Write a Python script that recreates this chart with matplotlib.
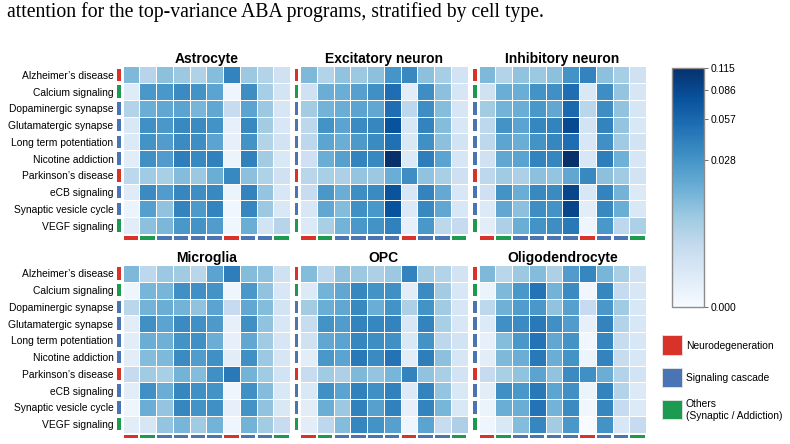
import numpy as np
import matplotlib
matplotlib.use('Agg')
import matplotlib.pyplot as plt
from matplotlib.colors import PowerNorm
from matplotlib.cm import ScalarMappable
from matplotlib.patches import Rectangle

plt.rcParams['font.family'] = ['Liberation Sans', 'DejaVu Sans']

# pathways (rows and columns share the same order)
pathways = ["Alzheimer’s disease", "Calcium signaling", "Dopaminergic synapse",
            "Glutamatergic synapse", "Long term potentiation", "Nicotine addiction",
            "Parkinson’s disease", "eCB signaling", "Synaptic vesicle cycle", "VEGF signaling"]
pathway_group = ['neuro', 'other', 'signal', 'signal', 'signal', 'signal',
                 'neuro', 'signal', 'signal', 'other']
cell_types = ['Astrocyte', 'Excitatory neuron', 'Inhibitory neuron',
              'Microglia', 'OPC', 'Oligodendrocyte']

astrocyte = [
    [0.0118, 0.0037, 0.0097, 0.0073, 0.0044, 0.0103, 0.0382, 0.0073, 0.0041, 0.0012],
    [0.0003, 0.0267, 0.0267, 0.0336, 0.0293, 0.0208, 0.00002, 0.0321, 0.0057, 0.0009],
    [0.0041, 0.0159, 0.0187, 0.0208, 0.0133, 0.0187, 0.0020, 0.0208, 0.0073, 0.0007],
    [0.0005, 0.0307, 0.0267, 0.0351, 0.0336, 0.0293, 0.0001, 0.0351, 0.0062, 0.0006],
    [0.0004, 0.0293, 0.0243, 0.0336, 0.0321, 0.0208, 0.0001, 0.0293, 0.0041, 0.0010],
    [0.0002, 0.0307, 0.0243, 0.0415, 0.0351, 0.0398, 0.00004, 0.0398, 0.0062, 0.0005],
    [0.0030, 0.0067, 0.0053, 0.0110, 0.0073, 0.0159, 0.0351, 0.0097, 0.0044, 0.0012],
    [0.0003, 0.0336, 0.0243, 0.0366, 0.0321, 0.0351, 0.00004, 0.0382, 0.0084, 0.0006],
    [0.00004, 0.0231, 0.0090, 0.0382, 0.0255, 0.0382, 0.00001, 0.0366, 0.0073, 0.0005],
    [0.0002, 0.0097, 0.0125, 0.0267, 0.0293, 0.0243, 0.00001, 0.0159, 0.0010, 0.0037],
]
excitatory = [
    [0.0118, 0.0041, 0.0090, 0.0073, 0.0097, 0.0280, 0.0351, 0.0097, 0.0057, 0.0010],
    [0.0012, 0.0159, 0.0159, 0.0219, 0.0307, 0.0525, 0.0002, 0.0321, 0.0097, 0.0007],
    [0.0062, 0.0141, 0.0159, 0.0208, 0.0187, 0.0525, 0.0030, 0.0321, 0.0103, 0.0007],
    [0.0030, 0.0293, 0.0208, 0.0336, 0.0366, 0.0772, 0.0006, 0.0382, 0.0110, 0.0006],
    [0.0030, 0.0198, 0.0159, 0.0255, 0.0336, 0.0506, 0.0005, 0.0307, 0.0097, 0.0010],
    [0.0013, 0.0159, 0.0219, 0.0382, 0.0351, 0.1150, 0.0004, 0.0415, 0.0208, 0.0007],
    [0.0034, 0.0053, 0.0048, 0.0084, 0.0073, 0.0159, 0.0321, 0.0090, 0.0053, 0.0013],
    [0.0020, 0.0267, 0.0159, 0.0321, 0.0336, 0.0747, 0.0006, 0.0382, 0.0178, 0.0006],
    [0.0006, 0.0187, 0.0110, 0.0307, 0.0267, 0.0772, 0.0004, 0.0351, 0.0187, 0.0006],
    [0.0004, 0.0053, 0.0141, 0.0267, 0.0293, 0.0398, 0.0001, 0.0267, 0.0030, 0.0022],
]
inhibitory = [
    [0.0118, 0.0041, 0.0090, 0.0073, 0.0097, 0.0293, 0.0382, 0.0097, 0.0057, 0.0012],
    [0.0012, 0.0159, 0.0159, 0.0293, 0.0307, 0.0525, 0.0005, 0.0321, 0.0084, 0.0007],
    [0.0062, 0.0141, 0.0159, 0.0267, 0.0187, 0.0565, 0.0034, 0.0321, 0.0090, 0.0007],
    [0.0030, 0.0293, 0.0208, 0.0366, 0.0382, 0.0851, 0.0010, 0.0382, 0.0084, 0.0005],
    [0.0030, 0.0198, 0.0159, 0.0293, 0.0366, 0.0525, 0.0006, 0.0307, 0.0067, 0.0010],
    [0.0012, 0.0187, 0.0208, 0.0382, 0.0366, 0.1150, 0.0006, 0.0415, 0.0150, 0.0007],
    [0.0030, 0.0067, 0.0048, 0.0097, 0.0084, 0.0187, 0.0351, 0.0097, 0.0067, 0.0010],
    [0.0013, 0.0293, 0.0159, 0.0351, 0.0336, 0.0906, 0.0006, 0.0382, 0.0141, 0.0004],
    [0.0004, 0.0187, 0.0097, 0.0321, 0.0293, 0.0906, 0.0002, 0.0351, 0.0159, 0.0005],
    [0.0002, 0.0048, 0.0159, 0.0293, 0.0321, 0.0450, 0.00002, 0.0267, 0.0030, 0.0048],
]
microglia = [
    [0.0118, 0.0030, 0.0073, 0.0067, 0.0034, 0.0208, 0.0415, 0.0110, 0.0090, 0.0012],
    [0.00002, 0.0133, 0.0133, 0.0307, 0.0307, 0.0293, 0.00002, 0.0267, 0.0090, 0.0006],
    [0.0034, 0.0141, 0.0159, 0.0141, 0.0090, 0.0208, 0.0022, 0.0187, 0.0110, 0.0010],
    [0.0002, 0.0307, 0.0208, 0.0336, 0.0307, 0.0255, 0.0001, 0.0307, 0.0090, 0.0006],
    [0.0002, 0.0159, 0.0150, 0.0293, 0.0307, 0.0159, 0.0001, 0.0187, 0.0067, 0.0007],
    [0.0002, 0.0110, 0.0118, 0.0336, 0.0243, 0.0307, 0.0002, 0.0307, 0.0073, 0.0007],
    [0.0022, 0.0067, 0.0053, 0.0141, 0.0110, 0.0307, 0.0450, 0.0141, 0.0067, 0.0010],
    [0.0002, 0.0307, 0.0159, 0.0366, 0.0307, 0.0293, 0.00002, 0.0307, 0.0110, 0.0005],
    [0.00002, 0.0159, 0.0084, 0.0366, 0.0293, 0.0307, 0.0001, 0.0293, 0.0090, 0.0005],
    [0.0002, 0.0007, 0.0084, 0.0133, 0.0067, 0.0141, 0.00002, 0.0141, 0.0062, 0.0020],
]
opc = [
    [0.0110, 0.0030, 0.0090, 0.0073, 0.0048, 0.0073, 0.0382, 0.0062, 0.0041, 0.0010],
    [0.0004, 0.0141, 0.0187, 0.0366, 0.0293, 0.0307, 0.0002, 0.0336, 0.0062, 0.0006],
    [0.0062, 0.0159, 0.0187, 0.0351, 0.0159, 0.0293, 0.0048, 0.0293, 0.0067, 0.0007],
    [0.0020, 0.0293, 0.0243, 0.0382, 0.0366, 0.0382, 0.0006, 0.0382, 0.0053, 0.0006],
    [0.0012, 0.0187, 0.0208, 0.0366, 0.0321, 0.0307, 0.0005, 0.0293, 0.0030, 0.0010],
    [0.0002, 0.0267, 0.0208, 0.0450, 0.0336, 0.0487, 0.0002, 0.0415, 0.0097, 0.0007],
    [0.0020, 0.0067, 0.0048, 0.0118, 0.0084, 0.0133, 0.0382, 0.0090, 0.0053, 0.0010],
    [0.0005, 0.0307, 0.0208, 0.0398, 0.0307, 0.0398, 0.0004, 0.0382, 0.0084, 0.0005],
    [0.0002, 0.0159, 0.0073, 0.0398, 0.0219, 0.0398, 0.0001, 0.0382, 0.0133, 0.0005],
    [0.0002, 0.0030, 0.0110, 0.0366, 0.0293, 0.0219, 0.00002, 0.0208, 0.0020, 0.0048],
]
oligodendrocyte = [
    [0.0118, 0.0034, 0.0073, 0.0110, 0.0048, 0.0243, 0.0366, 0.0133, 0.0053, 0.0012],
    [0.00004, 0.0118, 0.0267, 0.0487, 0.0141, 0.0336, 0.00001, 0.0366, 0.0022, 0.0006],
    [0.0030, 0.0150, 0.0243, 0.0267, 0.0090, 0.0219, 0.0022, 0.0267, 0.0067, 0.0006],
    [0.0004, 0.0307, 0.0336, 0.0450, 0.0307, 0.0243, 0.0001, 0.0382, 0.0041, 0.0006],
    [0.0001, 0.0110, 0.0267, 0.0487, 0.0187, 0.0293, 0.00001, 0.0366, 0.0020, 0.0006],
    [0.0002, 0.0118, 0.0159, 0.0450, 0.0159, 0.0293, 0.00004, 0.0382, 0.0020, 0.0006],
    [0.0022, 0.0053, 0.0090, 0.0208, 0.0090, 0.0336, 0.0307, 0.0159, 0.0041, 0.0010],
    [0.0002, 0.0307, 0.0267, 0.0450, 0.0198, 0.0307, 0.00004, 0.0382, 0.0041, 0.0004],
    [0.00004, 0.0159, 0.0159, 0.0487, 0.0141, 0.0336, 0.00001, 0.0366, 0.0022, 0.0004],
    [0.00002, 0.0005, 0.0110, 0.0366, 0.0062, 0.0267, 0.0, 0.0293, 0.0006, 0.0022],
]
matrices = [astrocyte, excitatory, inhibitory, microglia, opc, oligodendrocyte]

cbar_ticks = [0.0, 0.02875, 0.0575, 0.08625, 0.115]
cbar_labels = ['0.000', '0.028', '0.057', '0.086', '0.115']
legend_groups = ['neuro', 'signal', 'other']
legend_labels = ['Neurodegeneration', 'Signaling cascade', 'Others\n(Synaptic / Addiction)']
group_colors = {'neuro': '#d93229', 'signal': '#4a75b5', 'other': '#1c9a50'}

caption = 'attention for the top-variance ABA programs, stratified by cell type.'

W, H = 790, 444
fig = plt.figure(figsize=(W / 100, H / 100), dpi=100)


def px_axes(x, y, w, h):
    # axes placed by pixel box (top-left origin)
    return fig.add_axes([x / W, 1 - (y + h) / H, w / W, h / H])


norm = PowerNorm(gamma=0.35, vmin=0, vmax=0.115)
cmap = plt.get_cmap('Blues')

col_x = [122.5, 300, 478.5]
row_y = [66.5, 265]
size = 167.5
n = len(pathways)
edges = np.arange(n + 1) - 0.5

for k, (name, mat) in enumerate(zip(cell_types, matrices)):
    ax = px_axes(col_x[k % 3], row_y[k // 3], size, size)
    ax.pcolormesh(edges, edges, np.array(mat), cmap=cmap, norm=norm,
                  edgecolors='white', linewidth=0.55)
    ax.set_xlim(-0.5, n - 0.5)
    ax.set_ylim(n - 0.5, -0.5)
    for s in ax.spines.values():
        s.set_visible(False)
    ax.set_xticks([])
    if k % 3 == 0:
        ax.set_yticks(range(n))
        ax.set_yticklabels(pathways, fontsize=7.4)
        ax.tick_params(axis='y', length=0, pad=6.5)
    else:
        ax.set_yticks([])
    ax.set_title(name, fontsize=10, fontweight='bold', pad=2.5)

    # category strips along rows and columns
    for i, g in enumerate(pathway_group):
        ax.add_patch(Rectangle((-0.8, i - 0.37), 0.21, 0.74,
                               color=group_colors[g], clip_on=False, lw=0))
        ax.add_patch(Rectangle((i - 0.44, n - 0.5 + 0.13), 0.88, 0.22,
                               color=group_colors[g], clip_on=False, lw=0))

# colorbar
cax = px_axes(672, 67.5, 31.5, 239.5)
cb = fig.colorbar(ScalarMappable(norm=norm, cmap=cmap), cax=cax)
cb.set_ticks(cbar_ticks, labels=cbar_labels)
cb.outline.set_edgecolor('#8c8c8c')
cb.outline.set_linewidth(1.0)
cax.tick_params(length=3, width=0.6, color='#555555', labelsize=7.4, pad=2)

# legend
leg_y = [335, 367.5, 399.5]
for g, lab, y in zip(legend_groups, legend_labels, leg_y):
    fig.add_artist(Rectangle((662 / W, 1 - (y + 19.5) / H), 19.5 / W, 19.5 / H,
                             transform=fig.transFigure, facecolor=group_colors[g],
                             edgecolor='#e6e6e6', lw=0.6))
    fig.text(686 / W, 1 - (y + 10.5) / H, lab, fontsize=7.4, va='center',
             ha='left', linespacing=1.35)

fig.text(7 / W, 1 - 17 / H, caption, family='Liberation Serif', fontsize=14.2,
         va='baseline', ha='left')

plt.savefig('out.png', dpi=100)
plt.close()
